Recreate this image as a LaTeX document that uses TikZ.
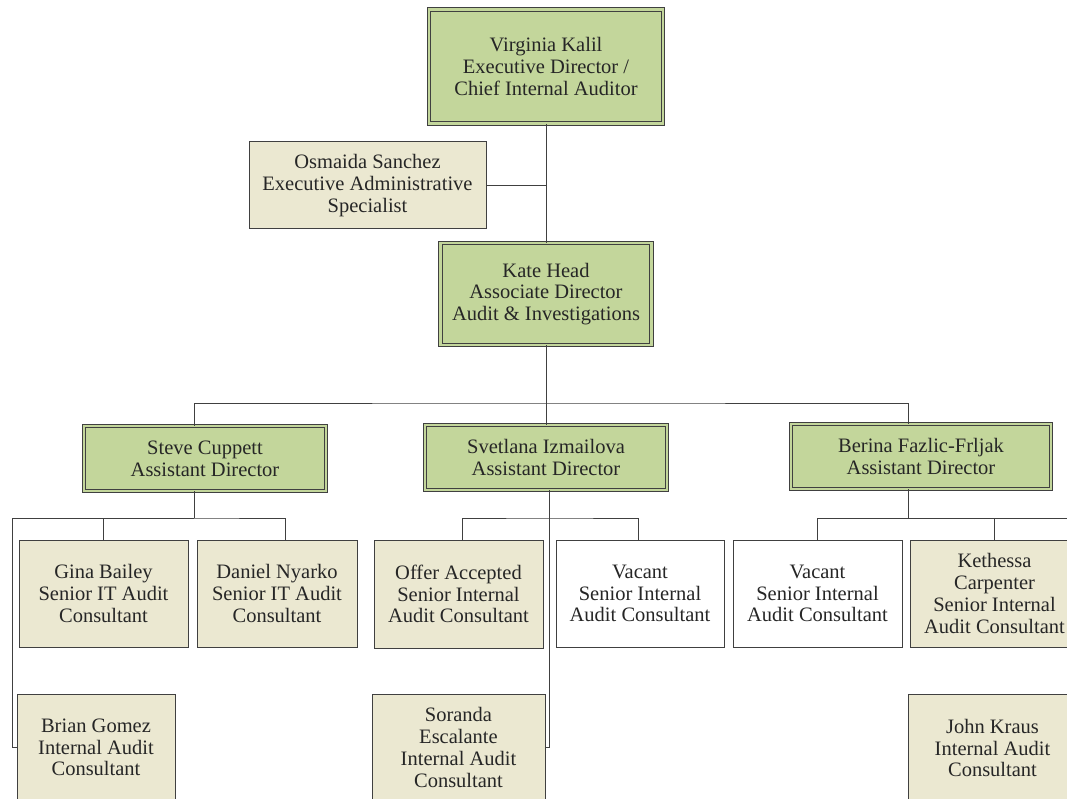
\documentclass[tikz,border=0pt]{standalone}
\usepackage{fontspec}
\setmainfont{Liberation Serif}
\definecolor{leadgreen}{HTML}{C3D69B}
\definecolor{tanfill}{HTML}{EBE8D1}
\definecolor{rule}{HTML}{404040}

\begin{document}
\begin{tikzpicture}[x=1pt, y=-1pt,
    every node/.style = {font=\fontsize{20.5}{21.7}\selectfont,
      align=center, text=black!85, inner sep=0pt},
    box/.style  = {draw=rule, line width=1pt, fill=tanfill},
    lead/.style = {box, fill=leadgreen, double=leadgreen,
      double distance=2.4pt, line width=0.9pt},
    open/.style = {box, fill=white},
    link/.style = {draw=rule, line width=1pt},
  ]
  \useasboundingbox (0,0) rectangle (1067,799);
  \clip (0,0) rectangle (1067,799);

  % top of the office
  \node[lead, minimum width=234pt, minimum height=114pt] (virginia) at (546,66.5)
    {Virginia Kalil\\Executive Director /\\Chief Internal Auditor};
  \node[box, minimum width=237pt, minimum height=87pt] (osmaida) at (367.5,185.5)
    {Osmaida Sanchez\\Executive Administrative\\Specialist};
  \node[lead, minimum width=211pt, minimum height=102pt] (kate) at (546,294)
    {Kate Head\\Associate Director\\Audit \& Investigations};

  % assistant directors
  \node[lead, minimum width=242pt, minimum height=65pt] (steve) at (205,458.5)
    {Steve Cuppett\\Assistant Director};
  \node[lead, minimum width=242pt, minimum height=65pt] (svetlana) at (546,457.5)
    {Svetlana Izmailova\\Assistant Director};
  \node[lead, minimum width=260pt, minimum height=65pt] (berina) at (921,456.5)
    {Berina Fazlic-Frljak\\Assistant Director};

  % consultants
  \node[box, minimum width=169pt, minimum height=107pt] (gina) at (103.5,593.5)
    {Gina Bailey\\Senior IT Audit\\Consultant};
  \node[box, minimum width=160pt, minimum height=107pt] (daniel) at (277,593.5)
    {Daniel Nyarko\\Senior IT Audit\\Consultant};
  \node[box, minimum width=169pt, minimum height=108pt] (offer) at (458.5,594)
    {Offer Accepted\\Senior Internal\\Audit Consultant};
  \node[open, minimum width=168pt, minimum height=107pt] (vacantsi) at (640,593.5)
    {Vacant\\Senior Internal\\Audit Consultant};
  \node[open, minimum width=169pt, minimum height=107pt] (vacantbf) at (817.5,593.5)
    {Vacant\\Senior Internal\\Audit Consultant};
  \node[box, minimum width=169pt, minimum height=107pt] (kethessa) at (994.5,593.5)
    {Kethessa\\Carpenter\\Senior Internal\\Audit Consultant};
  \node[box, minimum width=158pt, minimum height=107pt] (brian) at (96,747.5)
    {Brian Gomez\\Internal Audit\\Consultant};
  \node[box, minimum width=173pt, minimum height=107pt] (soranda) at (458.5,747.5)
    {Soranda\\Escalante\\Internal Audit\\Consultant};
  \node[box, minimum width=169pt, minimum height=107pt] (john) at (992.5,748)
    {John Kraus\\Internal Audit\\Consultant};

  \coordinate (hub) at (546,403);
  \coordinate (stevebus) at (194,518);
  \coordinate (steveleft) at (12,518);
  \coordinate (svetbus) at (549,518);
  \coordinate (berinabus) at (908,518);
  \coordinate (berinaend) at (1070,518);

  % connectors
  \draw[link] (virginia.south) -- (kate.north);
  \draw[link] (osmaida.east) -- (osmaida.east -| virginia.south);
  \draw[link] (kate.south) -- (hub);
  \draw[link] ([xshift=-11pt]steve.north) |- (hub) -| ([xshift=-13pt]berina.north);
  \draw[link] (svetlana.north) -- (hub);

  \draw[link] ([xshift=-11pt]steve.south) -- (stevebus);
  \draw[link] (gina.north) |- (stevebus) -| ([xshift=8pt]daniel.north);
  \draw[link] (stevebus) -- (steveleft) |- (brian.west);

  \draw[link] ([xshift=3pt]svetlana.south) |- (soranda.east);
  \draw[link] ([xshift=3.5pt]offer.north) |- (svetbus) -| ([xshift=-2pt]vacantsi.north);

  \draw[link] ([xshift=-13pt]berina.south) -- (berinabus);
  \draw[link] (vacantbf.north) |- (berinaend);
  \draw[link] (kethessa.north) -- (kethessa.north |- berinabus);
\end{tikzpicture}
\end{document}
